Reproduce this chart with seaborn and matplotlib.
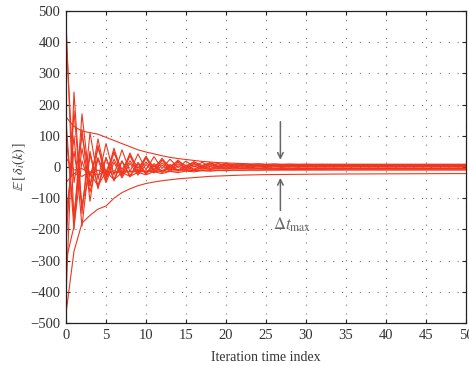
import numpy as np
import pandas as pd
import matplotlib
matplotlib.use("Agg")
import matplotlib.pyplot as plt
import seaborn as sns

iterations = list(range(51))

s01 = [470, -180, 170, -60, 90, -30, 60, -20, 45, -12,
       35, -8, 28, -4, 22, -1, 17, 1, 13, 2,
       10, 3, 8.5, 4, 7.5, 4.5, 6.8, 5, 6.3, 5.3,
       6, 5.6, 5.9, 5.7, 5.8, 5.8, 5.8, 5.8, 5.8, 5.8,
       5.8, 5.8, 5.8, 5.8, 5.8, 5.8, 5.8, 5.8, 5.8, 5.8, 5.8]
s02 = [-420, 240, -150, 110, -40, 75, -25, 55, -15, 42,
       -9, 33, -5, 25, -2, 19, 0, 15, 1.5, 12,
       2.5, 9.5, 3.5, 8, 4, 7, 4.5, 6.3, 4.8, 5.8,
       5, 5.4, 5.1, 5.2, 5.1, 5.1, 5.1, 5.1, 5.1, 5.1,
       5.1, 5.1, 5.1, 5.1, 5.1, 5.1, 5.1, 5.1, 5.1, 5.1, 5.1]
s03 = [150, -200, 120, -110, 70, -45, 50, -30, 38, -22,
       30, -15, 22, -9, 16, -5, 12, -2, 9, 0,
       7, 1.5, 6, 2.5, 5.3, 3.3, 5, 3.8, 4.8, 4.2,
       4.6, 4.4, 4.5, 4.5, 4.5, 4.5, 4.5, 4.5, 4.5, 4.5,
       4.5, 4.5, 4.5, 4.5, 4.5, 4.5, 4.5, 4.5, 4.5, 4.5, 4.5]
s04 = [160, 130, 115, 110, 105, 95, 85, 75, 65, 55,
       48, 42, 36, 31, 27, 24, 21, 18, 16, 14,
       13, 12, 11, 10, 9.5, 9, 8.8, 8.6, 8.5, 8.4,
       8.3, 8.2, 8.2, 8.1, 8.1, 8.1, 8, 8, 8, 8,
       8, 8, 8, 8, 8, 8, 8, 8, 8, 8, 8]
s05 = [-470, -270, -180, -155, -135, -125, -100, -82, -70, -60,
       -53, -48, -44, -41, -38, -36, -34, -32, -30, -29,
       -28, -27, -26, -25.5, -25, -24.5, -24.2, -24, -23.7, -23.5,
       -23.3, -23.1, -23, -22.8, -22.6, -22.5, -22.4, -22.3, -22.2, -22.1,
       -22, -21.9, -21.8, -21.7, -21.6, -21.5, -21.4, -21.3, -21.2, -21.1, -21]
s06 = [30, -10, -5, -20, -10, -20, -12, -18, -14, -16,
       -14, -15, -13, -14, -12, -12, -11, -11, -10.5, -10.5,
       -10.3, -10.2, -10.2, -10.1, -10.1, -10, -10, -10, -10, -10,
       -10, -10, -10, -10, -10, -10, -10, -10, -10, -10,
       -10, -10, -10, -10, -10, -10, -10, -10, -10, -10, -10]
s07 = [-250, 180, -130, 50, -70, 30, -45, 18, -32, 10,
       -24, 5, -18, 2, -13, 0, -10, -1, -8, -2,
       -6.5, -2.5, -5.5, -3, -4.8, -3.2, -4.3, -3.4, -4, -3.5,
       -3.7, -3.6, -3.6, -3.6, -3.6, -3.6, -3.6, -3.6, -3.6, -3.6,
       -3.6, -3.6, -3.6, -3.6, -3.6, -3.6, -3.6, -3.6, -3.6, -3.6, -3.6]
s08 = [100, -150, 60, -80, 25, -50, 15, -35, 12, -26,
       8, -19, 6, -14, 4, -10, 3, -7, 2, -5,
       1.5, -3.5, 1, -2.5, 0.7, -1.7, 0.5, -1.1, 0.3, -0.7,
       0.2, -0.4, 0.1, -0.2, 0, 0, 0, 0, 0, 0,
       0, 0, 0, 0, 0, 0, 0, 0, 0, 0, 0]
s09 = [-200, 100, -190, 40, -60, 30, -40, 20, -28, 15,
       -20, 11, -14, 8, -10, 6, -7, 4.5, -4.5, 3.5,
       -3, 3, -1.5, 2.5, -0.5, 2.2, 0.3, 2, 0.8, 1.8,
       1.1, 1.7, 1.3, 1.6, 1.4, 1.5, 1.5, 1.5, 1.5, 1.5,
       1.5, 1.5, 1.5, 1.5, 1.5, 1.5, 1.5, 1.5, 1.5, 1.5, 1.5]
s10 = [420, -50, 100, -30, 60, -15, 45, -8, 36, -3,
       29, 0, 23, 2.5, 19, 4, 16, 5, 13.5, 6,
       12, 6.8, 11, 7.3, 10.2, 7.8, 9.7, 8.2, 9.3, 8.5,
       9, 8.7, 8.9, 8.8, 8.8, 8.8, 8.8, 8.8, 8.8, 8.8,
       8.8, 8.8, 8.8, 8.8, 8.8, 8.8, 8.8, 8.8, 8.8, 8.8, 8.8]
s11 = [-300, -190, 20, -60, 30, -35, 25, -25, 20, -18,
       16, -12, 13, -8, 10, -5, 8, -3, 6.5, -1.5,
       5, -0.5, 4.2, 0.5, 3.5, 1, 3, 1.5, 2.7, 1.8,
       2.4, 2, 2.2, 2.1, 2.1, 2.1, 2.1, 2.1, 2.1, 2.1,
       2.1, 2.1, 2.1, 2.1, 2.1, 2.1, 2.1, 2.1, 2.1, 2.1, 2.1]
s12 = [-50, -20, -30, -15, -25, -15, -20, -12, -16, -10,
       -13, -9, -11, -8, -9, -7, -7.5, -6.5, -6.5, -6,
       -6, -5.8, -5.7, -5.6, -5.5, -5.4, -5.3, -5.2, -5.2, -5.1,
       -5.1, -5, -5, -5, -5, -5, -5, -5, -5, -5,
       -5, -5, -5, -5, -5, -5, -5, -5, -5, -5, -5]
s13 = [-150, 50, -120, -20, -60, -15, -40, -18, -30, -17,
       -25, -15, -21, -14, -18, -13, -15.5, -12, -13.5, -11,
       -12, -10, -11, -9, -10, -8.5, -9, -8, -8.5, -7.8,
       -8, -7.5, -7.7, -7.4, -7.5, -7.3, -7.4, -7.3, -7.3, -7.3,
       -7.3, -7.3, -7.3, -7.3, -7.3, -7.3, -7.3, -7.3, -7.3, -7.3, -7.3]

series = [s01, s02, s03, s04, s05, s06, s07, s08, s09, s10, s11, s12, s13]

x_ticks = [0, 5, 10, 15, 20, 25, 30, 35, 40, 45, 50]
y_ticks = [-500, -400, -300, -200, -100, 0, 100, 200, 300, 400, 500]

rows = []
for i, s in enumerate(series):
    assert len(s) == len(iterations), (i, len(s))
    for k, v in zip(iterations, s):
        rows.append({"k": k, "value": v, "node": f"n{i}"})
df = pd.DataFrame(rows)

sns.set_style("ticks")
plt.rcParams["font.family"] = ["Liberation Serif", "DejaVu Serif"]
plt.rcParams["mathtext.fontset"] = "stix"
plt.rcParams["axes.unicode_minus"] = True

fig = plt.figure(figsize=(4.69, 3.66), dpi=100)
ax = fig.add_axes([0.1407, 0.1175, 0.8529, 0.8525])

red = "#f0361e"
sns.lineplot(data=df, x="k", y="value", hue="node",
             palette=[red] * len(series), legend=False, ax=ax,
             linewidth=0.8, estimator=None, sort=False)

ax.set_xlim(0, 50)
ax.set_ylim(-500, 500)
ax.set_xticks(x_ticks)
ax.set_yticks(y_ticks)
ax.grid(True, color="#777777", linestyle=(0, (1, 7)), linewidth=0.8)
for sp in ax.spines.values():
    sp.set_visible(True)
    sp.set_color("#222222")
    sp.set_linewidth(0.9)
ax.tick_params(direction="in", length=3, width=0.8, top=True, right=True,
               labelsize=10.5, colors="#222222", pad=4)
for lbl in ax.get_xticklabels() + ax.get_yticklabels():
    lbl.set_color("#333333")
ax.set_xlabel("Iteration time index", fontsize=10, color="#333333", labelpad=7)
ax.set_ylabel(r"$\mathbb{E}\,[\,\delta_i(k)\,]$", fontsize=10, color="#333333", labelpad=2)

arrow_kw = dict(arrowstyle="->", color="#666666", lw=1.1, mutation_scale=10)
ax.annotate("", xy=(26.8, 14), xytext=(26.8, 154), arrowprops=arrow_kw)
ax.annotate("", xy=(26.8, -26), xytext=(26.8, -148), arrowprops=arrow_kw)
ax.text(28.3, -186, r"$\Delta t_{\mathrm{max}}$", ha="center", va="center",
        fontsize=12, color="#666666")

fig.savefig("out.png", dpi=100)
